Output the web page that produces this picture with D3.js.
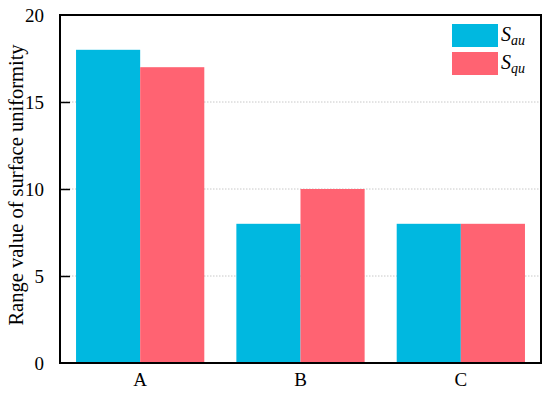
<!DOCTYPE html>
<html>
<head>
<meta charset="utf-8">
<script src="https://cdn.jsdelivr.net/npm/d3@7"></script>
<style>
  body { margin: 0; background: #fff; }
  svg text { font-family: "Liberation Serif", "Times New Roman", serif !important; }
</style>
</head>
<body>
<div id="chart"></div>
<script>
// data
var groups = ["A", "B", "C"];
var seriesKeys = ["Sau", "Squ"];
var sauValues = [18, 8, 8];
var squValues = [17, 10, 8];
var yTicks = [0, 5, 10, 15, 20];

var colors = {Sau: "#00b8e0", Squ: "#ff6372"};
var subs = {Sau: "au", Squ: "qu"};

var W = 550, H = 394;
var margin = {top: 15, right: 9, bottom: 31, left: 60};
var width = W - margin.left - margin.right,
    height = H - margin.top - margin.bottom;

var svg = d3.select("#chart").append("svg")
    .attr("width", W)
    .attr("height", H);

var g = svg.append("g")
    .attr("transform", "translate(" + margin.left + "," + margin.top + ")");

var x0 = d3.scaleBand()
    .domain(groups)
    .range([0, width])
    .paddingInner(0.2)
    .paddingOuter(0.1);

var x1 = d3.scaleBand()
    .domain(seriesKeys)
    .range([0, x0.bandwidth()]);

var y = d3.scaleLinear()
    .domain([0, 20])
    .range([height, 0]);

// dotted grid lines
g.append("g")
  .selectAll("line")
  .data(yTicks.filter(function (d) { return d > 0 && d < 20; }))
  .enter().append("line")
    .attr("x1", 0)
    .attr("x2", width)
    .attr("y1", function (d) { return y(d); })
    .attr("y2", function (d) { return y(d); })
    .attr("stroke", "#c8c8c8")
    .attr("stroke-width", 1)
    .attr("stroke-dasharray", "1.5,1.5");

var rows = groups.map(function (k, i) {
  return {group: k, Sau: sauValues[i], Squ: squValues[i]};
});

// bars
g.append("g")
  .selectAll("g")
  .data(rows)
  .enter().append("g")
    .attr("transform", function (d) { return "translate(" + x0(d.group) + ",0)"; })
  .selectAll("rect")
  .data(function (d) { return seriesKeys.map(function (k) { return {key: k, value: d[k]}; }); })
  .enter().append("rect")
    .attr("x", function (d) { return x1(d.key); })
    .attr("y", function (d) { return y(d.value); })
    .attr("width", x1.bandwidth())
    .attr("height", function (d) { return height - y(d.value); })
    .attr("fill", function (d) { return colors[d.key]; });

// y axis, ticks pointing inward
var yAxis = g.append("g")
    .call(d3.axisLeft(y).tickValues(yTicks).tickSize(-10).tickPadding(16));
yAxis.select(".domain").remove();
yAxis.selectAll(".tick line").attr("stroke", "#000").attr("stroke-width", 1.5);
yAxis.selectAll(".tick text")
    .style("font-size", "19px")
    .attr("fill", "#000");
yAxis.selectAll(".tick").filter(function (d) { return d === 0 || d === 20; })
    .select("line").remove();

// x axis labels
var xAxis = g.append("g")
    .attr("transform", "translate(0," + height + ")")
    .call(d3.axisBottom(x0).tickSize(0).tickPadding(10));
xAxis.select(".domain").remove();
xAxis.selectAll(".tick text")
    .style("font-size", "19px")
    .attr("fill", "#000");

// frame
g.append("rect")
    .attr("x", 0)
    .attr("y", 0)
    .attr("width", width)
    .attr("height", height)
    .attr("fill", "none")
    .attr("stroke", "#000")
    .attr("stroke-width", 2);

// y label
svg.append("text")
    .attr("transform", "translate(23,185) rotate(-90)")
    .attr("text-anchor", "middle")
    .style("font-size", "20.5px")
    .text("Range value of surface uniformity");

// legend
var legend = svg.append("g")
    .attr("transform", "translate(452,24)");
var item = legend.selectAll("g")
  .data(seriesKeys)
  .enter().append("g")
    .attr("transform", function (d, i) { return "translate(0," + (i * 28) + ")"; });
item.append("rect")
    .attr("width", 46)
    .attr("height", 23)
    .attr("fill", function (d) { return colors[d]; });
var lt = item.append("text")
    .attr("x", 49)
    .attr("y", 17)
    .style("font-size", "20px")
    .style("font-style", "italic");
lt.append("tspan").text("S");
lt.append("tspan")
    .attr("dy", 4)
    .style("font-size", "14px")
    .text(function (d) { return subs[d]; });
</script>
</body>
</html>
